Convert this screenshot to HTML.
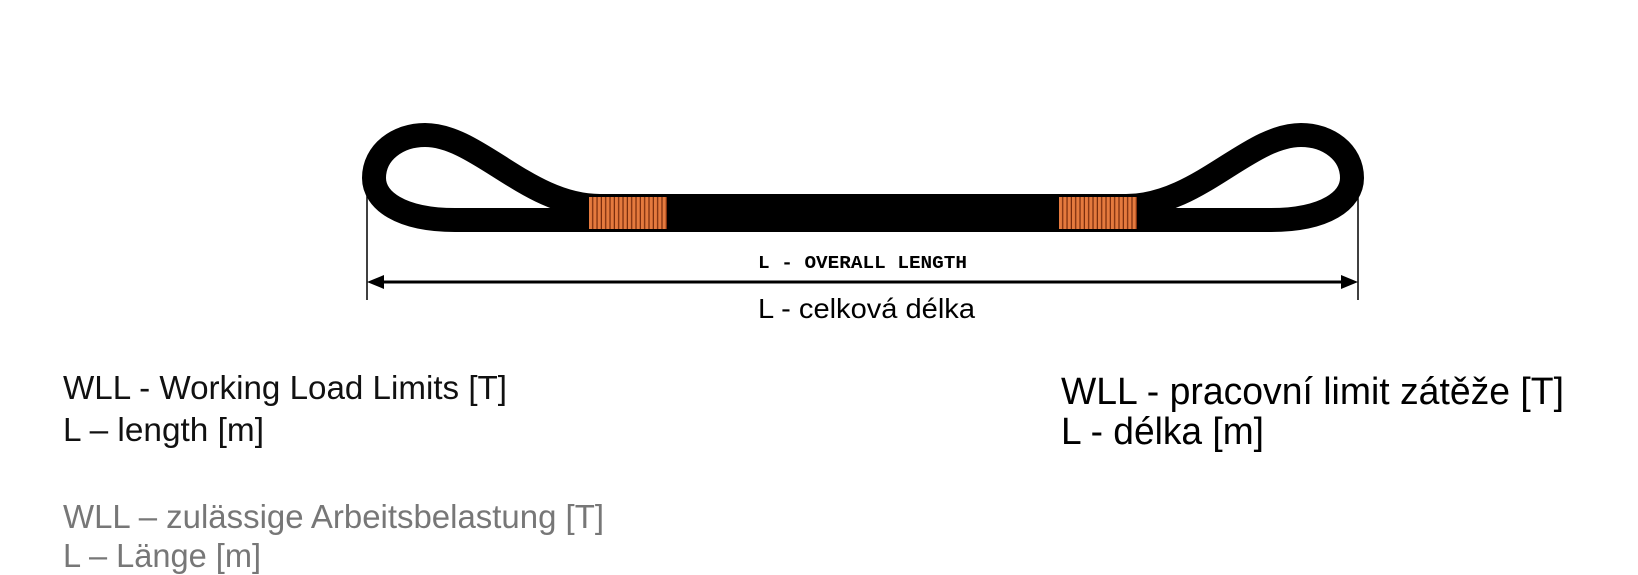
<!DOCTYPE html>
<html><head><meta charset="utf-8"><style>
html,body{margin:0;padding:0;background:#fff;}
svg{display:block;}
</style></head><body>
<svg width="1638" height="575" viewBox="0 0 1638 575" xmlns="http://www.w3.org/2000/svg">
<defs>
<pattern id="st" x="589" y="0" width="4.33" height="40" patternUnits="userSpaceOnUse">
<rect width="4.33" height="40" fill="#e57a3e"/>
<rect x="3.1" width="1.3" height="40" fill="#7a2c0c"/>
</pattern>
<pattern id="st2" x="1059" y="0" width="4.33" height="40" patternUnits="userSpaceOnUse">
<rect width="4.33" height="40" fill="#e57a3e"/>
<rect x="3.1" width="1.3" height="40" fill="#7a2c0c"/>
</pattern>
</defs>
<!-- body -->
<rect x="590" y="194" width="546" height="38" fill="#000"/>
<!-- left loop -->
<path d="M 610 220 L 455 220 C 400 220 374 200 374 178 C 374 152 398 135 425 135 C 478 135 528 206 600 206" fill="none" stroke="#000" stroke-width="24"/>
<!-- right loop -->
<path d="M 1116 220 L 1271 220 C 1326 220 1352 200 1352 178 C 1352 152 1328 135 1301 135 C 1248 135 1198 206 1126 206" fill="none" stroke="#000" stroke-width="24"/>
<rect x="589" y="197" width="78" height="32" fill="url(#st)"/>
<rect x="1059" y="197" width="78" height="32" fill="url(#st2)"/>
<!-- dimension -->
<line x1="367" y1="190" x2="367" y2="300" stroke="#000" stroke-width="1.5"/>
<line x1="1358" y1="190" x2="1358" y2="300" stroke="#000" stroke-width="1.5"/>
<line x1="380" y1="282" x2="1345" y2="282" stroke="#000" stroke-width="3"/>
<polygon points="367,282 384,275 384,289" fill="#000"/>
<polygon points="1358,282 1341,275 1341,289" fill="#000"/>
<text x="758" y="268" font-family="Liberation Mono, monospace" font-weight="bold" font-size="18" textLength="209" lengthAdjust="spacingAndGlyphs">L - OVERALL LENGTH</text>
<text x="758" y="318" font-family="Liberation Sans, sans-serif" font-size="28" textLength="217" lengthAdjust="spacingAndGlyphs">L - celková délka</text>
<g font-family="Liberation Sans, sans-serif" font-size="33">
<text x="63" y="399" fill="#111" textLength="444" lengthAdjust="spacingAndGlyphs">WLL - Working Load Limits [T]</text>
<text x="63" y="441" fill="#111" textLength="201" lengthAdjust="spacingAndGlyphs">L – length [m]</text>
<text x="63" y="528" fill="#777" textLength="541" lengthAdjust="spacingAndGlyphs">WLL – zulässige Arbeitsbelastung [T]</text>
<text x="63" y="567" fill="#777" textLength="198" lengthAdjust="spacingAndGlyphs">L – Länge [m]</text>
</g>
<g font-family="Liberation Sans, sans-serif" font-size="38" fill="#000">
<text x="1061" y="404" textLength="503" lengthAdjust="spacingAndGlyphs">WLL - pracovní limit zátěže [T]</text>
<text x="1061" y="444" textLength="203" lengthAdjust="spacingAndGlyphs">L - délka [m]</text>
</g>
</svg>
</body></html>
